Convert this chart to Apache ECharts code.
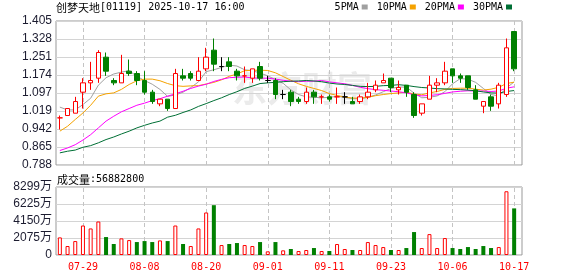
<!DOCTYPE html>
<html><head><meta charset="utf-8">
<script src="https://cdn.jsdelivr.net/npm/echarts@6/dist/echarts.min.js"></script>
<style>html,body{margin:0;padding:0;background:#fff}#c{width:578px;height:276px}</style>
</head><body><div id="c"></div>
<script>
const dates = ['07-24','07-25','07-28','07-29','07-30','07-31','08-01','08-04','08-05','08-06',
'08-07','08-08','08-11','08-12','08-13','08-14','08-15','08-18','08-19','08-20',
'08-21','08-22','08-25','08-26','08-27','08-28','08-29','09-01','09-02','09-03',
'09-04','09-05','09-08','09-09','09-10','09-11','09-12','09-15','09-16','09-17',
'09-18','09-19','09-22','09-23','09-24','09-25','09-26','09-29','09-30','10-02',
'10-03','10-06','10-08','10-09','10-10','10-13','10-14','10-15','10-16','10-17'];
const tickLabels = ['07-29','08-08','08-20','09-01','09-11','09-23','10-06','10-17'];
const yTickLabels = ['0.788','0.865','0.942','1.019','1.097','1.174','1.251','1.328','1.405'];
const volTickLabels = ['0','2075万','4150万','6225万','8299万'];

const openP = [0.99,1.00,1.01,1.10,1.14,1.16,1.25,1.15,1.14,1.19,1.18,1.15,1.10,1.05,1.07,1.03,1.17,1.18,1.15,1.20,
1.28,1.21,1.23,1.19,1.17,1.16,1.21,1.15,1.15,1.09,1.10,1.07,1.06,1.10,1.08,1.08,1.08,1.08,1.06,1.06,
1.08,1.11,1.14,1.16,1.11,1.13,1.09,1.01,1.07,1.13,1.14,1.20,1.17,1.17,1.11,1.04,1.08,1.05,1.09,1.36];
const closeP = [0.99,1.03,1.06,1.14,1.15,1.27,1.19,1.14,1.18,1.18,1.15,1.10,1.06,1.07,1.03,1.18,1.16,1.16,1.19,1.25,
1.22,1.21,1.21,1.17,1.17,1.20,1.16,1.15,1.09,1.09,1.06,1.06,1.10,1.08,1.08,1.07,1.08,1.08,1.05,1.08,
1.10,1.13,1.15,1.12,1.12,1.10,1.00,1.05,1.13,1.14,1.19,1.17,1.16,1.12,1.07,1.06,1.04,1.13,1.29,1.20];
const lowP = [0.94,1.00,1.01,1.03,1.11,1.14,1.17,1.13,1.14,1.17,1.13,1.09,1.05,1.04,1.02,1.03,1.15,1.15,1.15,1.19,
1.19,1.19,1.19,1.15,1.14,1.14,1.15,1.14,1.07,1.07,1.04,1.05,1.05,1.05,1.05,1.06,1.05,1.05,1.05,1.05,
1.07,1.10,1.14,1.10,1.09,1.08,0.99,1.00,1.07,1.10,1.13,1.14,1.14,1.11,1.07,1.01,1.02,1.03,1.08,1.19];
const highP = [1.00,1.03,1.08,1.16,1.23,1.28,1.27,1.16,1.26,1.24,1.19,1.19,1.11,1.07,1.07,1.20,1.20,1.19,1.25,1.29,
1.33,1.25,1.25,1.20,1.21,1.20,1.23,1.17,1.16,1.11,1.11,1.08,1.12,1.11,1.09,1.09,1.12,1.10,1.08,1.09,
1.14,1.15,1.18,1.16,1.15,1.13,1.10,1.05,1.17,1.16,1.23,1.20,1.18,1.17,1.13,1.06,1.09,1.14,1.33,1.36];
const blackDoji = ['08-22','09-01','09-03','09-15'];

const ma5 = [1.036,1.024,1.024,1.047,1.074,1.130,1.162,1.178,1.186,1.192,1.168,1.150,1.134,1.112,1.082,1.088,1.100,1.120,1.144,1.188,
1.196,1.206,1.216,1.212,1.196,1.192,1.182,1.170,1.154,1.138,1.110,1.090,1.080,1.078,1.076,1.078,1.082,1.078,1.072,1.072,
1.078,1.088,1.102,1.116,1.122,1.122,1.096,1.076,1.078,1.084,1.102,1.136,1.158,1.156,1.142,1.116,1.090,1.084,1.118,1.144];
const ma10 = [0.933,0.954,0.983,1.011,1.044,1.083,1.093,1.097,1.112,1.133,1.149,1.156,1.156,1.149,1.137,1.128,1.125,1.127,1.128,1.135,
1.142,1.153,1.168,1.178,1.192,1.194,1.194,1.193,1.183,1.167,1.151,1.136,1.125,1.116,1.107,1.094,1.086,1.079,1.075,1.074,
1.078,1.085,1.090,1.094,1.097,1.100,1.092,1.089,1.097,1.103,1.112,1.116,1.117,1.117,1.113,1.109,1.113,1.121,1.137,1.143];
const ma20 = [0.850,0.861,0.875,0.895,0.918,0.947,0.976,0.997,1.016,1.030,1.044,1.053,1.064,1.072,1.083,1.093,1.104,1.116,1.126,1.134,
1.146,1.155,1.162,1.164,1.165,1.161,1.160,1.160,1.156,1.151,1.147,1.145,1.147,1.147,1.150,1.144,1.140,1.136,1.129,1.121,
1.115,1.111,1.108,1.105,1.102,1.097,1.089,1.084,1.086,1.089,1.095,1.101,1.104,1.106,1.105,1.105,1.103,1.105,1.117,1.123];
const ma30 = [0.840,0.847,0.852,0.864,0.871,0.883,0.897,0.908,0.921,0.933,0.947,0.958,0.968,0.976,0.993,1.001,1.013,1.024,1.039,1.051,
1.064,1.076,1.090,1.102,1.116,1.126,1.137,1.140,1.142,1.145,1.147,1.148,1.150,1.148,1.145,1.139,1.135,1.133,1.129,1.125,
1.124,1.125,1.128,1.129,1.132,1.129,1.124,1.120,1.118,1.115,1.114,1.112,1.111,1.109,1.106,1.101,1.097,1.096,1.103,1.107];

// volume in 万 shares
const volume = [2150,1095,1700,3600,3240,4090,2190,1340,2030,1820,1580,1700,1580,1780,1700,3600,1340,1095,3240,5190,
6080,1215,1340,1460,1215,1095,1580,445,1580,570,730,485,610,850,485,485,1340,730,610,610,
1580,1215,970,610,610,850,2800,850,2550,850,2070,850,730,970,730,1095,850,970,7780,5688.28];
// 1 = up day (red), 0 = down day (green)
const volUp = [1,1,1,1,1,1,0,0,1,1,0,0,0,1,0,1,0,1,1,1,
0,1,0,0,1,1,0,1,0,1,0,1,1,0,1,0,1,1,0,1,
1,1,1,0,1,0,0,1,1,1,1,0,0,0,0,0,0,1,1,0];

const RED = '#ff0000', GREEN = '#008000';
const chart = echarts.init(document.getElementById('c'));

const candleData = dates.map((d, i) => {
  const it = {value: [openP[i], closeP[i], lowP[i], highP[i]]};
  if (blackDoji.includes(d)) it.itemStyle = {color: '#000', color0: '#000', borderColor: '#000', borderColor0: '#000', borderColorDoji: '#000'};
  return it;
});
const volData = volume.map((v, i) => ({
  value: v,
  itemStyle: volUp[i] ? {color: '#fff', borderColor: RED, borderWidth: 1} : {color: GREEN, borderColor: GREEN, borderWidth: 0}
}));
const vLines = tickLabels.map(t => ({xAxis: t}));
const markLineStyle = {
  silent: true, symbol: ['none', 'none'], label: {show: false}, animation: false,
  lineStyle: {color: '#c4c4c4', type: [4, 3], width: 1}, emphasis: {disabled: true}, data: vLines
};
const maLine = (name, data, color) => ({
  name, type: 'line', data, xAxisIndex: 0, yAxisIndex: 0, symbol: 'none', smooth: false,
  lineStyle: {width: 1, color}, itemStyle: {color}, z: 3, silent: true
});

chart.setOption({
  animation: false,
  backgroundColor: '#fff',
  title: [
    {text: '{c|创梦天地}{a|[01119] 2025-10-17 16:00}', left: 56, top: 2, padding: 0,
     textStyle: {fontSize: 11, fontWeight: 'normal', rich: {
       c: {fontSize: 11, fontFamily: 'Noto Sans CJK SC', color: '#000'},
       a: {fontSize: 10, fontFamily: 'DejaVu Sans Mono', color: '#000'}}}},
    {text: '{c|成交量}{a|:56882800}', left: 57, top: 174, padding: 0,
     textStyle: {fontSize: 11, fontWeight: 'normal', rich: {
       c: {fontSize: 11, fontFamily: 'Noto Sans CJK SC', color: '#000'},
       a: {fontSize: 10, fontFamily: 'DejaVu Sans Mono', color: '#000'}}}}
  ],
  legend: {
    data: ['5PMA', '10PMA', '20PMA', '30PMA'], right: 66, top: 2, align: 'right', icon: 'rect',
    itemWidth: 6, itemHeight: 5, itemGap: 9, selectedMode: false, padding: 0,
    textStyle: {fontSize: 10, fontFamily: 'DejaVu Sans Mono', color: '#000', padding: [0, -2, 0, 0]}
  },
  graphic: [{
    type: 'text', left: 232, top: 71, z: 0, silent: true,
    style: {text: '东方财富', font: 'bold 35px "Noto Sans CJK SC"', fill: '#ebebeb'}
  }],
  grid: [
    {left: 56, top: 21, width: 462, height: 144},
    {left: 56, top: 187, width: 462, height: 68},
    {left: 56, top: 21, width: 466, height: 144, show: true, borderColor: '#999', borderWidth: 1, backgroundColor: 'rgba(0,0,0,0)'},
    {left: 56, top: 187, width: 466, height: 68, show: true, borderColor: '#999', borderWidth: 1, backgroundColor: 'rgba(0,0,0,0)'}
  ],
  xAxis: [
    {type: 'category', gridIndex: 0, data: dates, boundaryGap: true,
     axisLine: {show: false}, axisTick: {show: false}, axisLabel: {show: false}, splitLine: {show: false}},
    {type: 'category', gridIndex: 1, data: dates, boundaryGap: true,
     axisLine: {show: false}, axisTick: {show: false}, splitLine: {show: false},
     axisLabel: {interval: (i, v) => tickLabels.includes(v), color: RED, fontSize: 10,
       fontFamily: 'DejaVu Sans Mono', margin: 7, hideOverlap: false}},
    {type: 'value', gridIndex: 2, show: false, min: 0, max: 1},
    {type: 'value', gridIndex: 3, show: false, min: 0, max: 1}
  ],
  yAxis: [
    {type: 'value', gridIndex: 0, min: 0.788, max: 1.405, show: false, splitLine: {show: false}},
    {type: 'value', gridIndex: 1, min: 0, max: 8299, show: false, splitLine: {show: false}},
    {type: 'value', gridIndex: 2, min: 0.788, max: 1.405, interval: 0.077125,
     axisLine: {show: false}, axisTick: {show: false},
     splitLine: {lineStyle: {color: '#d4d4d4', width: 1}},
     axisLabel: {margin: 4, color: '#1c1c30', fontSize: 12, fontFamily: 'Liberation Sans',
       formatter: v => yTickLabels[Math.round((v - 0.788) / 0.077125)] || ''}},
    {type: 'value', gridIndex: 3, min: 0, max: 8299, interval: 8299 / 4,
     axisLine: {show: false}, axisTick: {show: false},
     splitLine: {lineStyle: {color: '#d4d4d4', width: 1}},
     axisLabel: {margin: 4, color: '#1c1c30', fontSize: 12, fontFamily: 'Liberation Sans, "Noto Sans CJK SC"',
       formatter: v => volTickLabels[Math.round(v / (8299 / 4))] || ''}}
  ],
  series: [
    {type: 'candlestick', name: 'K', xAxisIndex: 0, yAxisIndex: 0, data: candleData, barWidth: 5, z: 4, silent: true,
     itemStyle: {color: '#fff', color0: GREEN, borderColor: RED, borderColor0: GREEN, borderColorDoji: RED, borderWidth: 1},
     markLine: Object.assign({}, markLineStyle, {z: 1})},
    maLine('5PMA', ma5, '#a0a0a0'),
    maLine('10PMA', ma10, '#f5a200'),
    maLine('20PMA', ma20, '#ff00ff'),
    maLine('30PMA', ma30, '#006f35'),
    {type: 'bar', name: 'VOL', xAxisIndex: 1, yAxisIndex: 1, data: volData, barWidth: 4, silent: true,
     markLine: Object.assign({}, markLineStyle, {z: 1})}
  ]
});
</script></body></html>
